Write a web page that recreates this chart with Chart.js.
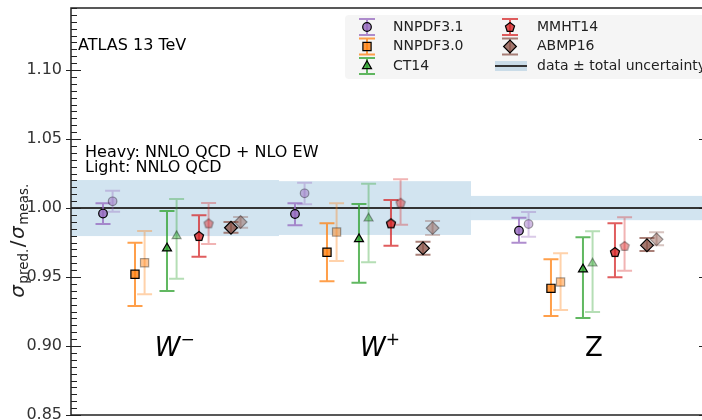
<!DOCTYPE html>
<html>
<head>
<meta charset="utf-8">
<script src="https://cdn.jsdelivr.net/npm/chart.js@4.4.1/dist/chart.umd.min.js"></script>
<style>
    html, body { margin: 0; padding: 0; background: #fff; }
</style>
</head>
<body>
<canvas id="xsecChart" width="702" height="420"></canvas>
<script>
// Categories and PDF sets
const categories = ['W', 'W', 'Z'];
const categorySup = ['\u2212', '+', ''];
const pdfNames = ['NNPDF3.1', 'NNPDF3.0', 'CT14', 'MMHT14', 'ABMP16'];

// Heavy = NNLO QCD + NLO EW ; rows: PDFs, columns: W-, W+, Z
const heavyCentral = [
    [0.9960, 0.9957, 0.9836],
    [0.9520, 0.9680, 0.9418],
    [0.9708, 0.9775, 0.9556],
    [0.9797, 0.9889, 0.9681],
    [0.9857, 0.9708, 0.9730]
];
const heavyLow = [
    [0.9884, 0.9875, 0.9749],
    [0.9290, 0.9469, 0.9217],
    [0.9399, 0.9459, 0.9203],
    [0.9647, 0.9727, 0.9498],
    [0.9821, 0.9662, 0.9688]
];
const heavyHigh = [
    [1.0034, 1.0034, 0.9930],
    [0.9749, 0.9889, 0.9628],
    [0.9978, 1.0029, 0.9788],
    [0.9947, 1.0058, 0.9889],
    [0.9899, 0.9756, 0.9783]
];

// Light = NNLO QCD
const lightCentral = [
    [1.0049, 1.0107, 0.9884],
    [0.9604, 0.9826, 0.9464],
    [0.9797, 0.9925, 0.9599],
    [0.9889, 1.0038, 0.9725],
    [0.9899, 0.9855, 0.9773]
];
const lightLow = [
    [0.9973, 1.0027, 0.9792],
    [0.9375, 0.9616, 0.9261],
    [0.9488, 0.9607, 0.9246],
    [0.9739, 0.9879, 0.9546],
    [0.9857, 0.9804, 0.9730]
];
const lightHigh = [
    [1.0125, 1.0183, 0.9971],
    [0.9833, 1.0034, 0.9672],
    [1.0065, 1.0176, 0.9831],
    [1.0036, 1.0208, 0.9933],
    [0.9935, 0.9906, 0.9824]
];

// measurement: central value and total uncertainty
const dataCentral = [1.0, 1.0, 1.0];
const dataUnc = [0.0203, 0.0195, 0.0088];

const yTicks = [0.85, 0.90, 0.95, 1.00, 1.05, 1.10];

// layout (x in slot units)
const groupStart = [1, 7, 14];
const bandEdges = [0, 6.5, 12.5, 21];
const labelX = [2.62, 9.03, 16.06];
const LIGHT_SHIFT = 0.3;

const pdfColors = ['148,103,189', '255,127,14', '44,160,44', '214,39,40', '140,86,75'];
const pdfMarkers = ['circle', 'rect', 'triangle', 'pentagon', 'rectRot'];
const markerRadius = [4.3, 5.8, 5.2, 0, 6.4];
const FONT = "'DejaVu Sans', sans-serif";

// pentagon marker as a small canvas
function makePentagon(fill, stroke) {
    const c = document.createElement('canvas');
    c.width = 14; c.height = 14;
    const g = c.getContext('2d');
    g.beginPath();
    for (let k = 0; k < 5; k++) {
        const a = -Math.PI / 2 + k * 2 * Math.PI / 5;
        const px = 7 + 4.8 * Math.cos(a), py = 7.4 + 4.8 * Math.sin(a);
        if (k === 0) g.moveTo(px, py); else g.lineTo(px, py);
    }
    g.closePath();
    g.fillStyle = fill; g.fill();
    g.strokeStyle = stroke; g.lineWidth = 1.2; g.stroke();
    return c;
}

const pentHeavy = makePentagon('rgba(214,39,40,0.8)', '#000');
const pentLight = makePentagon('rgba(214,39,40,0.45)', 'rgba(0,0,0,0.35)');

function buildDataset(p, light) {
    const cen = light ? lightCentral : heavyCentral;
    const lo = light ? lightLow : heavyLow;
    const hi = light ? lightHigh : heavyHigh;
    const col = pdfColors[p];
    const pts = categories.map((c, i) => ({
        x: groupStart[i] + p + (light ? LIGHT_SHIFT : 0),
        y: cen[p][i], lo: lo[p][i], hi: hi[p][i]
    }));
    let style = pdfMarkers[p];
    if (style === 'pentagon') style = light ? pentLight : pentHeavy;
    return {
        label: pdfNames[p] + (light ? ' (light)' : ''),
        data: pts,
        pointStyle: style,
        pointRadius: markerRadius[p] || 5,
        pointBackgroundColor: 'rgba(' + col + ',' + (light ? 0.45 : 0.8) + ')',
        pointBorderColor: light ? 'rgba(0,0,0,0.35)' : '#000',
        pointBorderWidth: 1.2,
        barColor: 'rgba(' + col + ',' + (light ? 0.35 : 0.75) + ')',
        showLine: false
    };
}

const datasets = [];
pdfNames.forEach((n, p) => {
    datasets.push(buildDataset(p, false));
    datasets.push(buildDataset(p, true));
});

// data bands + central line
const bandPlugin = {
    id: 'bands',
    beforeDatasetsDraw(chart) {
        const { ctx, chartArea, scales: { x, y } } = chart;
        ctx.save();
        ctx.beginPath();
        ctx.rect(chartArea.left, chartArea.top, chartArea.right - chartArea.left, chartArea.bottom - chartArea.top);
        ctx.clip();
        ctx.fillStyle = 'rgba(31,119,180,0.2)';
        categories.forEach((c, i) => {
            const x0 = x.getPixelForValue(bandEdges[i]);
            const x1 = x.getPixelForValue(bandEdges[i + 1]);
            const y0 = y.getPixelForValue(dataCentral[i] + dataUnc[i]);
            const y1 = y.getPixelForValue(dataCentral[i] - dataUnc[i]);
            ctx.fillRect(x0, y0, x1 - x0, y1 - y0);
        });
        ctx.strokeStyle = '#333';
        ctx.lineWidth = 2;
        ctx.beginPath();
        const yl = y.getPixelForValue(1.0);
        ctx.moveTo(chartArea.left, yl);
        ctx.lineTo(chartArea.right, yl);
        ctx.stroke();
        ctx.restore();
    }
};

// error bars
const errorBarPlugin = {
    id: 'errorBars',
    beforeDatasetsDraw(chart) {
        const { ctx, scales: { x, y } } = chart;
        chart.data.datasets.forEach(ds => {
            ctx.save();
            ctx.strokeStyle = ds.barColor;
            ctx.lineWidth = 2;
            ds.data.forEach(pt => {
                const px = x.getPixelForValue(pt.x);
                const top = y.getPixelForValue(pt.hi);
                const bot = y.getPixelForValue(pt.lo);
                ctx.beginPath();
                ctx.moveTo(px, top); ctx.lineTo(px, bot);
                ctx.moveTo(px - 7.5, top); ctx.lineTo(px + 7.5, top);
                ctx.moveTo(px - 7.5, bot); ctx.lineTo(px + 7.5, bot);
                ctx.stroke();
            });
            ctx.restore();
        });
    }
};

function legendMarker(ctx, p, cx, cy) {
    const col = pdfColors[p];
    // error bar
    ctx.strokeStyle = 'rgba(' + col + ',0.75)';
    ctx.lineWidth = 2;
    ctx.beginPath();
    ctx.moveTo(cx, cy - 8); ctx.lineTo(cx, cy + 8);
    ctx.moveTo(cx - 8, cy - 8); ctx.lineTo(cx + 8, cy - 8);
    ctx.moveTo(cx - 8, cy + 8); ctx.lineTo(cx + 8, cy + 8);
    ctx.stroke();
    const style = pdfMarkers[p];
    if (style === 'pentagon') {
        ctx.drawImage(pentHeavy, cx - 7, cy - 7);
        return;
    }
    const r = markerRadius[p];
    ctx.beginPath();
    if (style === 'circle') {
        ctx.arc(cx, cy, r, 0, Math.PI * 2);
    } else if (style === 'rect') {
        const s = r * Math.SQRT1_2;
        ctx.rect(cx - s, cy - s, 2 * s, 2 * s);
    } else if (style === 'triangle') {
        ctx.moveTo(cx, cy - r);
        ctx.lineTo(cx + r * 0.866, cy + r * 0.5);
        ctx.lineTo(cx - r * 0.866, cy + r * 0.5);
        ctx.closePath();
    } else {
        ctx.moveTo(cx, cy - r); ctx.lineTo(cx + r, cy);
        ctx.lineTo(cx, cy + r); ctx.lineTo(cx - r, cy);
        ctx.closePath();
    }
    ctx.fillStyle = 'rgba(' + col + ',0.8)';
    ctx.fill();
    ctx.strokeStyle = '#000';
    ctx.lineWidth = 1.2;
    ctx.stroke();
}

// frame, ticks, texts, legend
const decorPlugin = {
    id: 'decor',
    afterDraw(chart) {
        const { ctx, chartArea: ca, scales: { x, y } } = chart;
        ctx.save();
        // spines
        ctx.strokeStyle = '#222';
        ctx.lineWidth = 1.5;
        ctx.beginPath();
        ctx.moveTo(ca.right, ca.top); ctx.lineTo(ca.left, ca.top);
        ctx.lineTo(ca.left, ca.bottom); ctx.lineTo(ca.right, ca.bottom);
        ctx.stroke();
        // y ticks (major every 0.05, minor every 0.005)
        ctx.lineWidth = 1.2;
        ctx.beginPath();
        for (let k = 0; k * 0.005 + 0.85 <= y.max + 1e-9; k++) {
            const py = Math.round(y.getPixelForValue(0.85 + k * 0.005)) + 0.5;
            if (k % 10 === 0) {
                ctx.moveTo(ca.left - 5, py); ctx.lineTo(ca.left + 10, py);
                ctx.moveTo(ca.right - 3, py); ctx.lineTo(ca.right, py);
            } else {
                ctx.moveTo(ca.left, py); ctx.lineTo(ca.left + 6, py);
            }
        }
        ctx.stroke();

        // y title
        ctx.save();
        ctx.translate(18, 240);
        ctx.rotate(-Math.PI / 2);
        ctx.fillStyle = '#222';
        const parts = [
            { t: '\u03c3', f: 'italic 20px ' + FONT, dy: 0 },
            { t: 'pred.', f: '13.5px ' + FONT, dy: 4 },
            { t: '/', f: '20px ' + FONT, dy: 0 },
            { t: '\u03c3', f: 'italic 20px ' + FONT, dy: 0 },
            { t: 'meas.', f: '13.5px ' + FONT, dy: 4 }
        ];
        let total = 0;
        parts.forEach(pt => { ctx.font = pt.f; pt.w = ctx.measureText(pt.t).width; total += pt.w + 1.5; });
        let cx = -total / 2;
        ctx.textBaseline = 'alphabetic';
        parts.forEach(pt => {
            ctx.font = pt.f;
            ctx.fillText(pt.t, cx, 6 + pt.dy);
            cx += pt.w + 1.5;
        });
        ctx.restore();

        // annotations
        ctx.fillStyle = '#000';
        ctx.textBaseline = 'alphabetic';
        ctx.font = '16px ' + FONT;
        ctx.fillText('ATLAS 13 TeV', 78, 50);
        ctx.fillText('Heavy: NNLO QCD + NLO EW', 85, 157);
        ctx.fillText('Light: NNLO QCD', 85, 171.5);

        // category labels
        const yl = y.getPixelForValue(0.90) + 10;
        categories.forEach((c, i) => {
            const lx = x.getPixelForValue(labelX[i]);
            ctx.font = (categorySup[i] ? 'italic ' : '') + '26px ' + FONT;
            ctx.fillText(c, lx, yl);
            const w = ctx.measureText(c).width;
            if (categorySup[i]) {
                ctx.font = '17px ' + FONT;
                ctx.fillText(categorySup[i], lx + w, yl - 11);
            }
        });

        // legend
        ctx.fillStyle = 'rgba(242,242,242,0.8)';
        ctx.beginPath();
        ctx.roundRect(345, 15, 380, 64, 4);
        ctx.fill();
        ctx.font = '14px ' + FONT;
        ctx.textBaseline = 'middle';
        const rows = [27, 46.5, 66];
        [0, 1, 2].forEach(r => {
            legendMarker(ctx, r, 367, rows[r]);
            ctx.fillStyle = '#222';
            ctx.fillText(pdfNames[r], 393, rows[r]);
        });
        [3, 4].forEach((p, r) => {
            legendMarker(ctx, p, 510, rows[r]);
            ctx.fillStyle = '#222';
            ctx.fillText(pdfNames[p], 537, rows[r]);
        });
        ctx.fillStyle = 'rgba(31,119,180,0.2)';
        ctx.fillRect(495, rows[2] - 5, 32, 10);
        ctx.strokeStyle = '#333';
        ctx.lineWidth = 2;
        ctx.beginPath();
        ctx.moveTo(495, rows[2]); ctx.lineTo(527, rows[2]);
        ctx.stroke();
        ctx.fillStyle = '#222';
        ctx.fillText('data \u00b1 total uncertainty', 537, rows[2]);
        ctx.restore();
    }
};

new Chart(document.getElementById('xsecChart'), {
    type: 'scatter',
    data: { datasets: datasets },
    options: {
        responsive: false,
        animation: false,
        layout: { autoPadding: false, padding: { top: 8, bottom: 5, left: 0, right: 0 } },
        plugins: {
            legend: { display: false },
            tooltip: { enabled: false }
        },
        scales: {
            x: { type: 'linear', min: 0, max: 19.72, display: false },
            y: {
                min: 0.85,
                max: 1.145,
                afterBuildTicks: s => { s.ticks = yTicks.map(v => ({ value: v })); },
                afterFit: s => { s.width = 71; s.paddingTop = 0; s.paddingBottom = 0; },
                grid: { display: false, drawTicks: false },
                border: { display: false },
                ticks: {
                    padding: 9,
                    color: '#333',
                    font: { family: FONT, size: 16 },
                    callback: v => v.toFixed(2)
                }
            }
        }
    },
    plugins: [bandPlugin, errorBarPlugin, decorPlugin]
});
</script>
</body>
</html>
